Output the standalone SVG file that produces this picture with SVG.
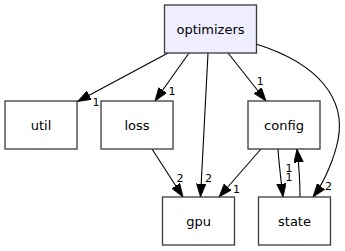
<svg xmlns="http://www.w3.org/2000/svg" width="345" height="251" viewBox="0 0 345 251">
  <style>
    .node rect { fill: #ffffff; stroke: #3a3a3a; stroke-width: 1.3; }
    .node.focus rect { fill: #eeeeff; }
    .node text { font-family: "DejaVu Sans", sans-serif; font-size: 13px; fill: #000; text-anchor: middle; }
    .edge { fill: none; stroke: #000; stroke-width: 1.1; marker-end: url(#arrow); }
    .lbl { font-family: "DejaVu Sans", sans-serif; font-size: 11px; fill: #000; text-anchor: middle; }
  </style>
  <defs>
    <marker id="arrow" markerUnits="userSpaceOnUse" markerWidth="14" markerHeight="10" refX="13.3" refY="4.7" orient="auto">
      <path d="M0,0 L13.3,4.7 L0,9.4 z" fill="#000" stroke="#000" stroke-width="0.8"/>
    </marker>
  </defs>
  <rect width="345" height="251" fill="#ffffff"/>

  <g id="connectors">
    <path class="edge" d="M168,53 L77.5,101.5"/>
    <path class="edge" d="M189,53 L155,101"/>
    <path class="edge" d="M208,53 L200.5,197"/>
    <path class="edge" d="M228,53 L266,101"/>
    <path class="edge" d="M256,44 C320,64 346,100 338,140 C335,155 326,180 313,197"/>
    <path class="edge" d="M152,149 L183,197"/>
    <path class="edge" d="M261,149 L219,197"/>
    <path class="edge" d="M278,149 C279,165 281,180 283,197"/>
    <path class="edge" d="M300,197 C300,183 299,166 297,149"/>
    <text class="lbl" x="96" y="106">1</text>
    <text class="lbl" x="172" y="95">1</text>
    <text class="lbl" x="260.3" y="85">1</text>
    <text class="lbl" x="180" y="181.5">2</text>
    <text class="lbl" x="208.5" y="182">2</text>
    <text class="lbl" x="236.5" y="192.5">1</text>
    <text class="lbl" x="289" y="171.5">1</text>
    <text class="lbl" x="289" y="180.5">1</text>
    <text class="lbl" x="328.5" y="190">2</text>
  </g>

  <g id="optimizers" class="node focus">
    <rect x="164.5" y="5" width="92" height="48"/>
    <text x="210.5" y="33.5">optimizers</text>
  </g>
  <g id="util" class="node">
    <rect x="5" y="101" width="72" height="48"/>
    <text x="41" y="129.5">util</text>
  </g>
  <g id="loss" class="node">
    <rect x="101" y="101" width="72" height="48"/>
    <text x="137" y="129.5">loss</text>
  </g>
  <g id="config" class="node">
    <rect x="248" y="101" width="72" height="48"/>
    <text x="284" y="129.5">config</text>
  </g>
  <g id="gpu" class="node">
    <rect x="162.5" y="197" width="72" height="48"/>
    <text x="198.5" y="225.5">gpu</text>
  </g>
  <g id="state" class="node">
    <rect x="258.5" y="197" width="72" height="48"/>
    <text x="294.5" y="225.5">state</text>
  </g>
</svg>
